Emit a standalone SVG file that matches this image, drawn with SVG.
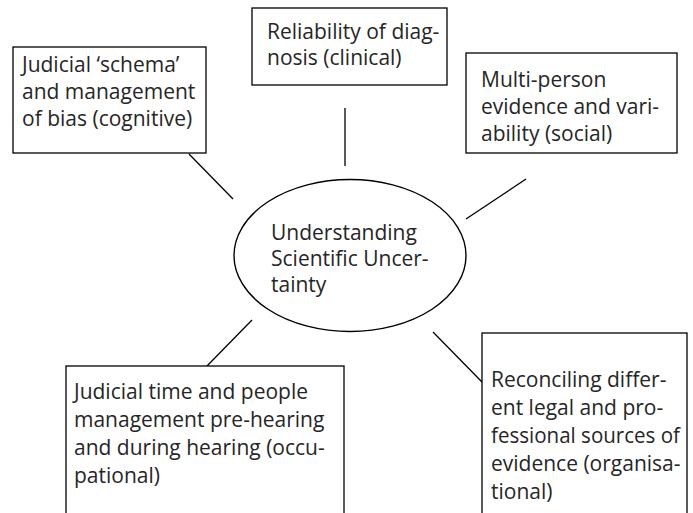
<svg xmlns="http://www.w3.org/2000/svg" width="693" height="513" viewBox="0 0 693 513">
  <style>
    .box { fill: #ffffff; stroke: #000000; stroke-width: 1.3; }
    .hub { fill: #ffffff; stroke: #000000; stroke-width: 1.4; }
    .link { stroke: #000000; stroke-width: 1.3; fill: none; }
    .label { font-family: "Open Sans", "DejaVu Sans", sans-serif; font-size: 21px; fill: #262626; }
  </style>
  <rect width="693" height="513" fill="#ffffff"/>

  <!-- spokes from the central theme to each dimension -->
  <g id="connectors">
    <line class="link" x1="189" y1="154" x2="233" y2="199"/>
    <line class="link" x1="345" y1="108" x2="345" y2="166"/>
    <line class="link" x1="526" y1="179" x2="466" y2="219"/>
    <line class="link" x1="207" y1="366" x2="252" y2="320"/>
    <line class="link" x1="433" y1="332" x2="482" y2="382"/>
  </g>

  <g id="hub">
    <ellipse class="hub" cx="350" cy="255.5" rx="116" ry="76"/>
    <text class="label">
      <tspan x="271" y="240">Understanding</tspan>
      <tspan x="271" y="266">Scientific Uncer-</tspan>
      <tspan x="271" y="292">tainty</tspan>
    </text>
  </g>

  <g id="cognitive">
    <rect class="box" x="13" y="47" width="193" height="106"/>
    <text class="label">
      <tspan x="22" y="72">Judicial ‘schema’</tspan>
      <tspan x="22" y="99">and management</tspan>
      <tspan x="22" y="126">of bias (cognitive)</tspan>
    </text>
  </g>

  <g id="clinical">
    <rect class="box" x="252" y="8" width="195" height="77"/>
    <text class="label">
      <tspan x="267" y="39">Reliability of diag-</tspan>
      <tspan x="267" y="65">nosis (clinical)</tspan>
    </text>
  </g>

  <g id="social">
    <rect class="box" x="466" y="53" width="211" height="100"/>
    <text class="label">
      <tspan x="481" y="87">Multi-person</tspan>
      <tspan x="481" y="114">evidence and vari-</tspan>
      <tspan x="481" y="141">ability (social)</tspan>
    </text>
  </g>

  <g id="occupational">
    <rect class="box" x="66" y="366" width="278" height="170"/>
    <text class="label">
      <tspan x="74" y="399">Judicial time and people</tspan>
      <tspan x="74" y="427">management pre-hearing</tspan>
      <tspan x="74" y="455">and during hearing (occu-</tspan>
      <tspan x="74" y="483">pational)</tspan>
    </text>
  </g>

  <g id="organisational">
    <rect class="box" x="482" y="333" width="205" height="200"/>
    <text class="label">
      <tspan x="491" y="387">Reconciling differ-</tspan>
      <tspan x="491" y="415">ent legal and pro-</tspan>
    </text>
    <!-- widest line kept inside the frame -->
    <text class="label" x="491" y="443" textLength="189" lengthAdjust="spacingAndGlyphs">fessional sources of</text>
    <text class="label">
      <tspan x="491" y="471">evidence (organisa-</tspan>
      <tspan x="491" y="499">tional)</tspan>
    </text>
  </g>
</svg>
